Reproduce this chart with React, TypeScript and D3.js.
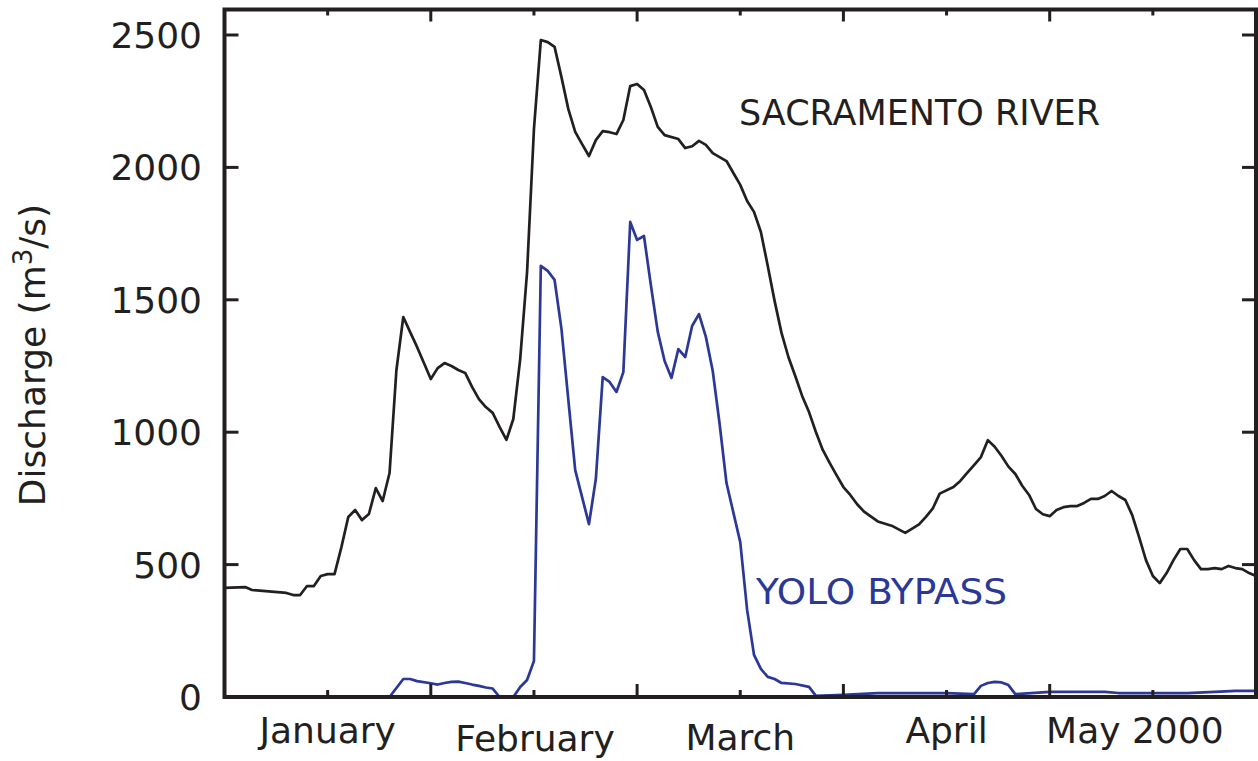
import React from 'react';
import * as d3 from 'd3';

// Days since 1 January 2000 and discharge (m3/s)
const sacDays = [0, 3, 4, 6, 9, 10, 11, 12, 13, 14, 15, 16, 17, 18, 19, 20, 21, 22, 23, 24, 25, 26, 27, 28, 30, 31, 32, 33, 34, 35, 36, 37, 38, 39, 40, 41, 42, 43, 44, 45, 46, 47, 48, 49, 50, 51, 52, 53, 54, 55, 56, 57, 58, 59, 60, 61, 62, 63, 64, 66, 67, 68, 69, 70, 71, 73, 74, 75, 76, 77, 78, 79, 80, 81, 82, 83, 84, 85, 86, 87, 88, 89, 90, 91, 92, 93, 95, 97, 99, 101, 102, 103, 104, 106, 107, 108, 109, 110, 111, 112, 113, 114, 115, 116, 117, 118, 119, 120, 121, 122, 123, 124, 125, 126, 127, 128, 129, 130, 131, 132, 133, 134, 135, 136, 137, 138, 139, 140, 141, 142, 143, 144, 145, 146, 147, 148, 149, 150];
const sacQ = [412, 415, 404, 400, 393, 385, 385, 419, 419, 457, 464, 464, 566, 680, 706, 668, 691, 789, 740, 846, 1235, 1435, 1378, 1322, 1201, 1242, 1261, 1250, 1235, 1224, 1171, 1125, 1095, 1073, 1020, 971, 1050, 1276, 1605, 2145, 2481, 2473, 2455, 2341, 2220, 2134, 2088, 2043, 2103, 2137, 2133, 2126, 2179, 2307, 2315, 2292, 2228, 2153, 2122, 2107, 2073, 2080, 2100, 2085, 2054, 2024, 1979, 1934, 1873, 1832, 1756, 1628, 1495, 1375, 1284, 1212, 1137, 1076, 1001, 933, 884, 838, 793, 763, 728, 700, 663, 647, 620, 652, 680, 712, 768, 793, 816, 846, 876, 906, 970, 945, 910, 870, 842, 798, 763, 710, 690, 683, 706, 717, 721, 721, 733, 748, 748, 759, 778, 759, 744, 687, 604, 517, 457, 430, 468, 517, 559, 559, 517, 483, 483, 487, 483, 495, 487, 483, 468, 457];

const yoloDays = [0, 24, 26, 27, 28, 30, 31, 32, 33, 34, 35, 36, 37, 38, 39, 40, 42, 43, 44, 45, 46, 47, 48, 49, 50, 51, 52, 53, 54, 55, 56, 57, 58, 59, 60, 61, 62, 63, 64, 65, 66, 67, 68, 69, 70, 71, 72, 73, 75, 76, 77, 78, 79, 80, 81, 83, 85, 86, 90, 95, 105, 109, 110, 111, 112, 113, 114, 115, 120, 128, 130, 140, 144, 147, 150];
const yoloQ = [0, 0, 68, 68, 60, 52, 47, 53, 57, 58, 53, 47, 42, 36, 32, 0, 0, 38, 64, 136, 1628, 1609, 1575, 1390, 1122, 857, 755, 653, 823, 1208, 1190, 1152, 1227, 1794, 1726, 1741, 1556, 1380, 1269, 1205, 1314, 1284, 1401, 1446, 1360, 1231, 1031, 808, 585, 329, 159, 106, 76, 68, 53, 49, 38, 4, 8, 15, 15, 11, 42, 53, 57, 55, 45, 11, 19, 19, 15, 15, 19, 23, 23];

const yTicks = [0, 500, 1000, 1500, 2000, 2500];
const xTickDays = [15, 30, 45, 60, 75, 90, 105, 120, 135];
const monthLabels = ['January', 'February', 'March', 'April', 'May 2000'];
const monthLabelDays = [15, 45, 75, 105, 135];

// layout tweaks (pixels) for the month labels
const labelDx = [0, 1, 0, 0, -18];
const labelBaseline = [743, 751, 750, 743, 743];

const INK = '#231f20';
const BLUE = '#2b3896';
const FONT = '"DejaVu Sans", sans-serif';

export default function App() {
  const W = 1258;
  const H = 761;
  const left = 224.5;
  const right = 1256;
  const top = 9.5;
  const bottom = 697;

  const x = d3.scaleLinear().domain([0, 150]).range([left, right]);
  const y = d3.scaleLinear().domain([0, 2500]).range([bottom, 35]);

  const line = d3
    .line<[number, number]>()
    .x((d) => x(d[0]))
    .y((d) => y(d[1]));

  const sac: [number, number][] = sacDays.map((d, i) => [d, sacQ[i]]);
  const yolo: [number, number][] = yoloDays.map((d, i) => [d, yoloQ[i]]);

  return (
    <svg
      width={W}
      height={H}
      style={{ position: 'absolute', left: 0, top: 0, display: 'block', background: '#fff' }}
      fontFamily={FONT}
    >
      <rect x={0} y={0} width={W} height={H} fill="#fff" />

      {/* data */}
      <path d={line(yolo) || ''} fill="none" stroke={BLUE} strokeWidth={2.7} strokeLinejoin="round" />
      <path d={line(sac) || ''} fill="none" stroke={INK} strokeWidth={2.7} strokeLinejoin="round" />

      {/* x ticks bottom & top */}
      {xTickDays.map((d) => {
        const len = d % 30 === 0 ? 13 : 7;
        return (
          <g key={'xt' + d} stroke={INK} strokeWidth={3}>
            <line x1={x(d)} x2={x(d)} y1={bottom} y2={bottom - len} />
            <line x1={x(d)} x2={x(d)} y1={top} y2={top + len - 1} />
          </g>
        );
      })}

      {/* y ticks left & right */}
      {yTicks.map((v) => (
        <g key={'yt' + v} stroke={INK} strokeWidth={3}>
          <line x1={left} x2={left + 14} y1={y(v)} y2={y(v)} />
          <line x1={right} x2={right - 14} y1={y(v)} y2={y(v)} />
        </g>
      ))}

      {/* frame */}
      <rect
        x={left}
        y={top}
        width={right - left}
        height={bottom - top}
        fill="none"
        stroke={INK}
        strokeWidth={4}
      />

      {/* y tick labels */}
      {yTicks.map((v) => (
        <text
          key={'yl' + v}
          x={202}
          y={y(v) + 13}
          textAnchor="end"
          fontSize={36}
          fill={INK}
        >
          {v}
        </text>
      ))}

      {/* month labels */}
      {monthLabels.map((m, i) => (
        <text
          key={m}
          x={x(monthLabelDays[i]) + labelDx[i]}
          y={labelBaseline[i]}
          textAnchor="middle"
          fontSize={36}
          fill={INK}
        >
          {m}
        </text>
      ))}

      {/* y axis title */}
      <text
        transform="translate(45,355) rotate(-90)"
        textAnchor="middle"
        fontSize={36}
        fill={INK}
      >
        Discharge (m
        <tspan fontSize={26} dy={-13}>3</tspan>
        <tspan dy={13}>/s)</tspan>
      </text>

      {/* series labels */}
      <text x={739} y={125} fontSize={35} fill={INK} textLength={361} lengthAdjust="spacingAndGlyphs">
        SACRAMENTO RIVER
      </text>
      <text x={756} y={604} fontSize={35} fill={BLUE} textLength={251} lengthAdjust="spacingAndGlyphs">
        YOLO BYPASS
      </text>
    </svg>
  );
}
